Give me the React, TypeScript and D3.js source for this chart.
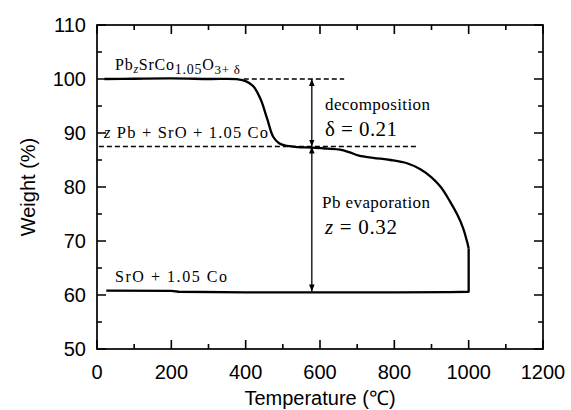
import React, { useEffect, useRef } from 'react';
import * as d3 from 'd3';

// heating curve (T in degC, weight in %)
const heatT = [20, 100, 200, 300, 380, 400, 420, 440, 458, 474, 490, 505, 540, 580, 620, 654, 680, 705, 743, 790, 834, 870, 900, 925, 950, 970, 985, 996, 1000];
const heatW = [100, 100.05, 100.1, 100, 99.95, 99.6, 98.7, 96.3, 92.6, 89.3, 88.1, 87.7, 87.4, 87.3, 87.1, 86.9, 86.4, 85.8, 85.4, 85.0, 84.4, 83.3, 81.8, 80.0, 77.3, 74.8, 72.4, 69.8, 68.6];
// isothermal hold end + cooling
const coolT = [1000, 950, 800, 600, 400, 220, 200, 25];
const coolW = [60.6, 60.55, 60.5, 60.5, 60.5, 60.6, 60.75, 60.8];

const levelTop = 100;
const levelMid = 87.5;
const levelEnd = 60.65;
const arrowT = 578;

const xTicks = [0, 200, 400, 600, 800, 1000, 1200];
const yTicks = [50, 60, 70, 80, 90, 100, 110];
const xMinor = [100, 300, 500, 700, 900, 1100];
const yMinor = [55, 65, 75, 85, 95, 105];

const W = 571, H = 410;

const Chart = () => {
  const svgRef = useRef(null);

  useEffect(() => {
    const svg = d3.select(svgRef.current);
    svg.selectAll('*').remove();

    const x = d3.scaleLinear().domain([0, 1200]).range([97, 543]);
    const y = d3.scaleLinear().domain([50, 110]).range([349, 25]);
    const xL = 97, xR = 543, yB = 349, yT = 25;

    const defs = svg.append('defs');
    defs.append('marker').attr('id', 'ah').attr('viewBox', '0 0 10 10')
      .attr('refX', 10).attr('refY', 5).attr('markerWidth', 7).attr('markerHeight', 7)
      .attr('markerUnits', 'userSpaceOnUse').attr('orient', 'auto-start-reverse')
      .append('path').attr('d', 'M0,1 L10,5 L0,9 Z').attr('fill', '#000');

    const sans = 'Liberation Sans, Arial';
    const serif = 'Liberation Serif, Times New Roman';

    // ticks (inward, all four sides) as one path
    let d = '';
    xTicks.forEach(v => { const p = x(v); d += `M${p},${yB}V${yB - 9}M${p},${yT}V${yT + 9}`; });
    xMinor.forEach(v => { const p = x(v); d += `M${p},${yB}V${yB - 5}M${p},${yT}V${yT + 5}`; });
    yTicks.forEach(v => { const p = y(v); d += `M${xL},${p}H${xL + 9}M${xR},${p}H${xR - 9}`; });
    yMinor.forEach(v => { const p = y(v); d += `M${xL},${p}H${xL + 5}M${xR},${p}H${xR - 5}`; });
    svg.append('path').attr('d', d).attr('fill', 'none').attr('stroke', '#000').attr('stroke-width', 1.6);

    svg.append('rect').attr('x', xL).attr('y', yT).attr('width', xR - xL).attr('height', yB - yT)
      .attr('fill', 'none').attr('stroke', '#000').attr('stroke-width', 1.7);

    // tick labels
    svg.append('g').selectAll('text').data(xTicks).join('text')
      .attr('x', v => x(v)).attr('y', 379).attr('text-anchor', 'middle')
      .attr('font-family', sans).attr('font-size', 20).text(d3.format('d'));
    svg.append('g').selectAll('text').data(yTicks).join('text')
      .attr('x', 86).attr('y', v => y(v) + 7).attr('text-anchor', 'end')
      .attr('font-family', sans).attr('font-size', 20).text(d3.format('d'));

    // axis titles
    svg.append('text').attr('x', 320).attr('y', 405).attr('text-anchor', 'middle')
      .attr('font-family', sans).attr('font-size', 20).text('Temperature (℃)');
    svg.append('text').attr('transform', 'translate(35,187) rotate(-90)').attr('text-anchor', 'middle')
      .attr('font-family', sans).attr('font-size', 20).text('Weight (%)');

    // dashed levels
    svg.append('line').attr('x1', x(395)).attr('x2', x(665)).attr('y1', y(levelTop)).attr('y2', y(levelTop))
      .attr('stroke', '#000').attr('stroke-width', 1.3).attr('stroke-dasharray', '5,3');
    svg.append('line').attr('x1', x(5)).attr('x2', x(862)).attr('y1', y(levelMid)).attr('y2', y(levelMid))
      .attr('stroke', '#000').attr('stroke-width', 1.3).attr('stroke-dasharray', '5,3');

    // TG curve
    const heat = heatT.map((t, i) => [t, heatW[i]]);
    const cool = [heat[heat.length - 1]].concat(coolT.map((t, i) => [t, coolW[i]]));
    svg.append('path')
      .attr('d', d3.line().x(p => x(p[0])).y(p => y(p[1])).curve(d3.curveCatmullRom.alpha(0.5))(heat))
      .attr('fill', 'none').attr('stroke', '#000').attr('stroke-width', 2.3);
    svg.append('path')
      .attr('d', d3.line().x(p => x(p[0])).y(p => y(p[1]))(cool))
      .attr('fill', 'none').attr('stroke', '#000').attr('stroke-width', 2.3).attr('stroke-linejoin', 'round');

    // arrows
    svg.append('line').attr('x1', x(arrowT)).attr('x2', x(arrowT)).attr('y1', y(levelTop)).attr('y2', y(levelMid))
      .attr('stroke', '#000').attr('stroke-width', 1.3)
      .attr('marker-start', 'url(#ah)').attr('marker-end', 'url(#ah)');
    svg.append('line').attr('x1', x(arrowT)).attr('x2', x(arrowT)).attr('y1', y(levelMid)).attr('y2', y(levelEnd))
      .attr('stroke', '#000').attr('stroke-width', 1.3)
      .attr('marker-start', 'url(#ah)').attr('marker-end', 'url(#ah)');

    // Pb_zSrCo_1.05O_3+δ
    const t1 = svg.append('text').attr('x', 115).attr('y', 70).attr('font-family', serif).attr('font-size', 16)
      .attr('textLength', 125).attr('lengthAdjust', 'spacing');
    t1.append('tspan').text('Pb');
    t1.append('tspan').attr('font-size', 12).attr('font-style', 'italic').attr('dy', 3).text('z');
    t1.append('tspan').attr('dy', -3).text('SrCo');
    t1.append('tspan').attr('font-size', 14).attr('dy', 4).text('1.05');
    t1.append('tspan').attr('dy', -4).text('O');
    t1.append('tspan').attr('font-size', 13).attr('dy', 4).text('3+ δ');

    const t2 = svg.append('text').attr('x', 104).attr('y', 138).attr('font-family', serif).attr('font-size', 16.5)
      .attr('textLength', 164).attr('lengthAdjust', 'spacing');
    t2.append('tspan').attr('font-style', 'italic').text('z');
    t2.append('tspan').text(' Pb + SrO + 1.05 Co');

    svg.append('text').attr('x', 115).attr('y', 282).attr('font-family', serif).attr('font-size', 16)
      .attr('textLength', 112).attr('lengthAdjust', 'spacing').text('SrO + 1.05 Co');

    svg.append('text').attr('x', 325).attr('y', 110).attr('font-family', serif).attr('font-size', 17)
      .attr('textLength', 105).attr('lengthAdjust', 'spacing').text('decomposition');
    svg.append('text').attr('x', 325).attr('y', 136).attr('font-family', serif).attr('font-size', 21)
      .attr('textLength', 72).attr('lengthAdjust', 'spacing').text('δ = 0.21');

    svg.append('text').attr('x', 322).attr('y', 208).attr('font-family', serif).attr('font-size', 17)
      .attr('textLength', 108).attr('lengthAdjust', 'spacing').text('Pb evaporation');
    const t3 = svg.append('text').attr('x', 325).attr('y', 234).attr('font-family', serif).attr('font-size', 21)
      .attr('textLength', 72).attr('lengthAdjust', 'spacing');
    t3.append('tspan').attr('font-style', 'italic').text('z');
    t3.append('tspan').text(' = 0.32');
  }, []);

  return <svg ref={svgRef} width={W} height={H} style={{ display: 'block', background: '#fff' }}></svg>;
};

export default function App() {
  return (
    <div style={{ position: 'absolute', left: 0, top: 0 }}>
      <Chart />
    </div>
  );
}
